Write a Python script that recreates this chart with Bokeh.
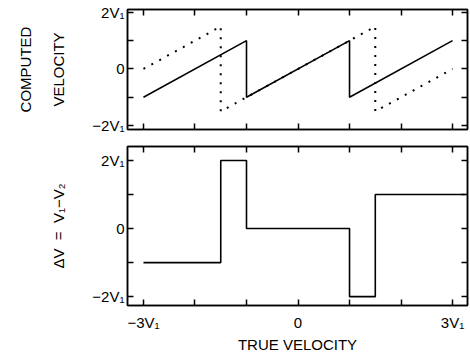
from bokeh.plotting import figure
from bokeh.models import LinearAxis, FixedTicker, Range1d
from bokeh.layouts import column
from bokeh.embed import file_html
from bokeh.resources import INLINE

# ---- data (in units of V1) ----
true_v1 = [-3, -1, -1, 1, 1, 3]
computed_v1 = [-1, 1, -1, 1, -1, 1]
true_v2 = [-3, -1.5, -1.5, 1.5, 1.5, 3]
computed_v2 = [0, 1.5, -1.5, 1.5, -1.5, 0]
true_dv = [-3, -1.5, -1, 1, 1.5, 3.25]
delta_v = [-1, 2, 0, -2, 1, 1]

x_ticks = [-3, -2, -1, 0, 1, 2, 3]
x_tick_labels = {-3: "−3V₁", 0: "0", 3: "3V₁"}
y_ticks = [-2, -1, 0, 1, 2]
y_tick_labels = {2: "2V₁", 0: "0", -2: "−2V₁"}

FONT = "Liberation Sans"
FS = "15px"
LW = 1.5


def style_axis(ax, ticks, labels=None, show_labels=False):
    ax.ticker = FixedTicker(ticks=ticks)
    ax.major_tick_in = 6
    ax.major_tick_out = 0
    ax.minor_tick_line_color = None
    ax.major_tick_line_width = LW
    ax.axis_line_width = LW
    ax.axis_line_color = "black"
    ax.major_tick_line_color = "black"
    ax.major_label_text_font = FONT
    ax.axis_label_text_font = FONT
    ax.axis_label_text_font_style = "normal"
    ax.axis_label_text_font_size = FS
    ax.axis_label_text_color = "black"
    ax.major_label_text_color = "black"
    ax.major_label_text_font_size = FS
    if labels is None:
        labels = {}
    overrides = {t: "" for t in ticks}
    overrides.update(labels)
    ax.major_label_overrides = overrides
    if not show_labels:
        ax.major_label_standoff = 0


def make_fig(height, yr, top, bottom):
    p = figure(width=470, height=height, x_range=Range1d(-3.31, 3.29),
               y_range=Range1d(*yr), toolbar_location=None, output_backend="svg",
               min_border_left=127, min_border_right=3, min_border_top=top,
               min_border_bottom=bottom)
    p.xgrid.grid_line_color = None
    p.ygrid.grid_line_color = None
    p.outline_line_color = "black"
    p.outline_line_width = LW
    p.background_fill_color = "white"
    p.border_fill_color = "white"
    return p


def extra_axes(p):
    ra = LinearAxis()
    style_axis(ra, y_ticks)
    p.add_layout(ra, "right")
    ta = LinearAxis()
    style_axis(ta, x_ticks)
    p.add_layout(ta, "above")


# ---- top panel ----
p1 = make_fig(137, (-2.14, 2.1), 9, 8)
style_axis(p1.yaxis[0], y_ticks, y_tick_labels, True)
p1.yaxis[0].major_label_standoff = 3
p1.yaxis[0].axis_label = "VELOCITY"
p1.yaxis[0].axis_label_standoff = 22
style_axis(p1.xaxis[0], x_ticks)
extra_axes(p1)
la = LinearAxis(ticker=FixedTicker(ticks=[]), axis_label="COMPUTED")
la.axis_line_color = None
la.major_tick_line_color = None
la.minor_tick_line_color = None
la.axis_label_text_font = FONT
la.axis_label_text_font_style = "normal"
la.axis_label_text_font_size = FS
la.axis_label_text_color = "black"
la.axis_label_standoff = 14
p1.add_layout(la, "left")

p1.line(true_v1, computed_v1, line_color="black", line_width=1.6)
p1.line(true_v2, computed_v2, line_color="black", line_width=2,
        line_dash="2 7")

# ---- bottom panel ----
p2 = make_fig(222, (-2.26, 2.41), 9, 54)
style_axis(p2.yaxis[0], y_ticks, y_tick_labels, True)
p2.yaxis[0].major_label_standoff = 3
p2.yaxis[0].axis_label = "ΔV\u00a0\u00a0=\u00a0\u00a0V₁−V₂"
p2.yaxis[0].axis_label_standoff = 22
style_axis(p2.xaxis[0], x_ticks, x_tick_labels, True)
p2.xaxis[0].major_label_standoff = 8
p2.xaxis[0].axis_label = "TRUE VELOCITY"
p2.xaxis[0].axis_label_standoff = 2
extra_axes(p2)

p2.step(true_dv, delta_v, mode="after", line_color="black", line_width=1.6)

layout = column(p1, p2, spacing=0)
open("out.html", "w").write(file_html(layout, INLINE))
